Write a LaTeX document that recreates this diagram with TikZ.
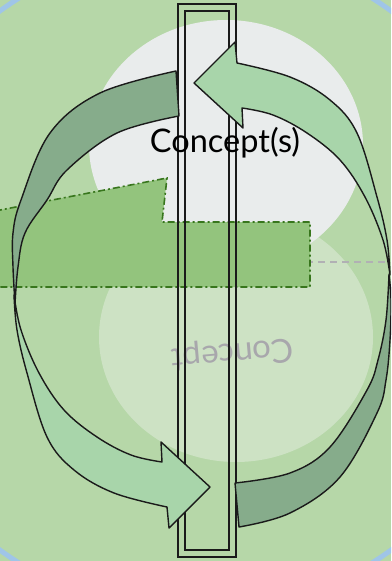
\documentclass[tikz,border=0pt]{standalone}
\usepackage{fontspec}
\setmainfont{Lato}
\definecolor{bggreen}{HTML}{B6D7A8}
\definecolor{ringblue}{HTML}{9FC5E8}
\definecolor{paleglow}{HTML}{CDE2C4}
\definecolor{palegray}{HTML}{E9ECEC}
\definecolor{polyfill}{HTML}{93C47D}
\definecolor{polyline}{HTML}{38761D}
\definecolor{darkband}{HTML}{86AC8B}
\definecolor{lightband}{HTML}{A8D5AA}
\definecolor{refltext}{HTML}{A8A7AC}
\definecolor{ink}{HTML}{1A1A1A}
\tikzset{
  bandshape/.style={draw=ink, line width=1.4pt, line join=round},
  frameline/.style={draw=ink, line width=1.5pt},
  polyshape/.style={fill=polyfill, draw=polyline, line width=1.6pt, dash pattern=on 7pt off 3pt on 2pt off 3pt},
  guide/.style={draw=refltext!90, line width=1.5pt, dash pattern=on 7pt off 5pt},
}
\begin{document}
\begin{tikzpicture}[x=1pt,y=-1pt]
\useasboundingbox (0,0) rectangle (391,561);
\clip (0,0) rectangle (391,561);
\fill[bggreen] (0,0) rectangle (391,561);
\draw[ringblue, line width=5pt] (195.5,280.5) circle[radius=333pt];
% soft ellipses
\fill[paleglow] (236,337) ellipse[x radius=137pt, y radius=125pt];
\fill[palegray] (226,145) ellipse[x radius=137pt, y radius=125pt];
% guide line
\draw[guide] (150,262) -- (390,262);
% green polygon
\path[polyshape] (-5,211) -- (167,178) -- (162,222) -- (310,222) -- (310,287) -- (-5,287) -- cycle;
% reflected text
\node[rotate=185, anchor=center, text=refltext, font=\fontsize{33}{40}\selectfont, inner sep=0pt] (refl) at (232.5,353) {Concept};
% double frame
\draw[frameline] (178,4) rectangle (236,557);
\draw[frameline] (185,11) rectangle (229,550);
% right light arrow (up to top)
\path[bandshape, fill=lightband]
  plot[smooth, tension=0.6] coordinates {(237,63) (290,77) (330,100) (357,133) (377,197) (387,240) (390,275)}
  -- plot[smooth, tension=0.6] coordinates {(390,275) (383,240) (365,197) (340,160) (307,133) (273,115) (242,108)}
  -- (243,128) -- (194,83) -- (235,42) -- cycle;
% left light arrow (down to bottom)
\path[bandshape, fill=lightband]
  plot[smooth, tension=0.6] coordinates {(167,507) (114,493) (74,470) (47,437) (27,373) (17,330) (14,295)}
  -- plot[smooth, tension=0.6] coordinates {(14,295) (21,330) (39,373) (64,410) (97,437) (131,455) (162,462)}
  -- (161,442) -- (210,487) -- (169,528) -- cycle;
% left dark band
\path[bandshape, fill=darkband]
  plot[smooth, tension=0.6] coordinates {(176,71) (100,93) (50,133) (21,200) (13,233) (13,267) (15,304)}
  -- plot[smooth, tension=0.6] coordinates {(15,304) (18,267) (25,233) (47,200) (67,170) (117,133) (179,116)}
  -- cycle;
% right dark band
\path[bandshape, fill=darkband]
  plot[smooth, tension=0.6] coordinates {(239,527) (290,513) (340,477) (377,413) (386,380) (390,340) (391,300) (389,274)}
  -- plot[smooth, tension=0.6] coordinates {(389,274) (386,320) (378,360) (367,390) (330,447) (290,473) (235,483)}
  -- cycle;
% title
\node[anchor=base, text=black, font=\fontsize{32.5}{39}\selectfont, inner sep=0pt] (title) at (225,153) {Concept(s)};
\end{tikzpicture}
\end{document}
